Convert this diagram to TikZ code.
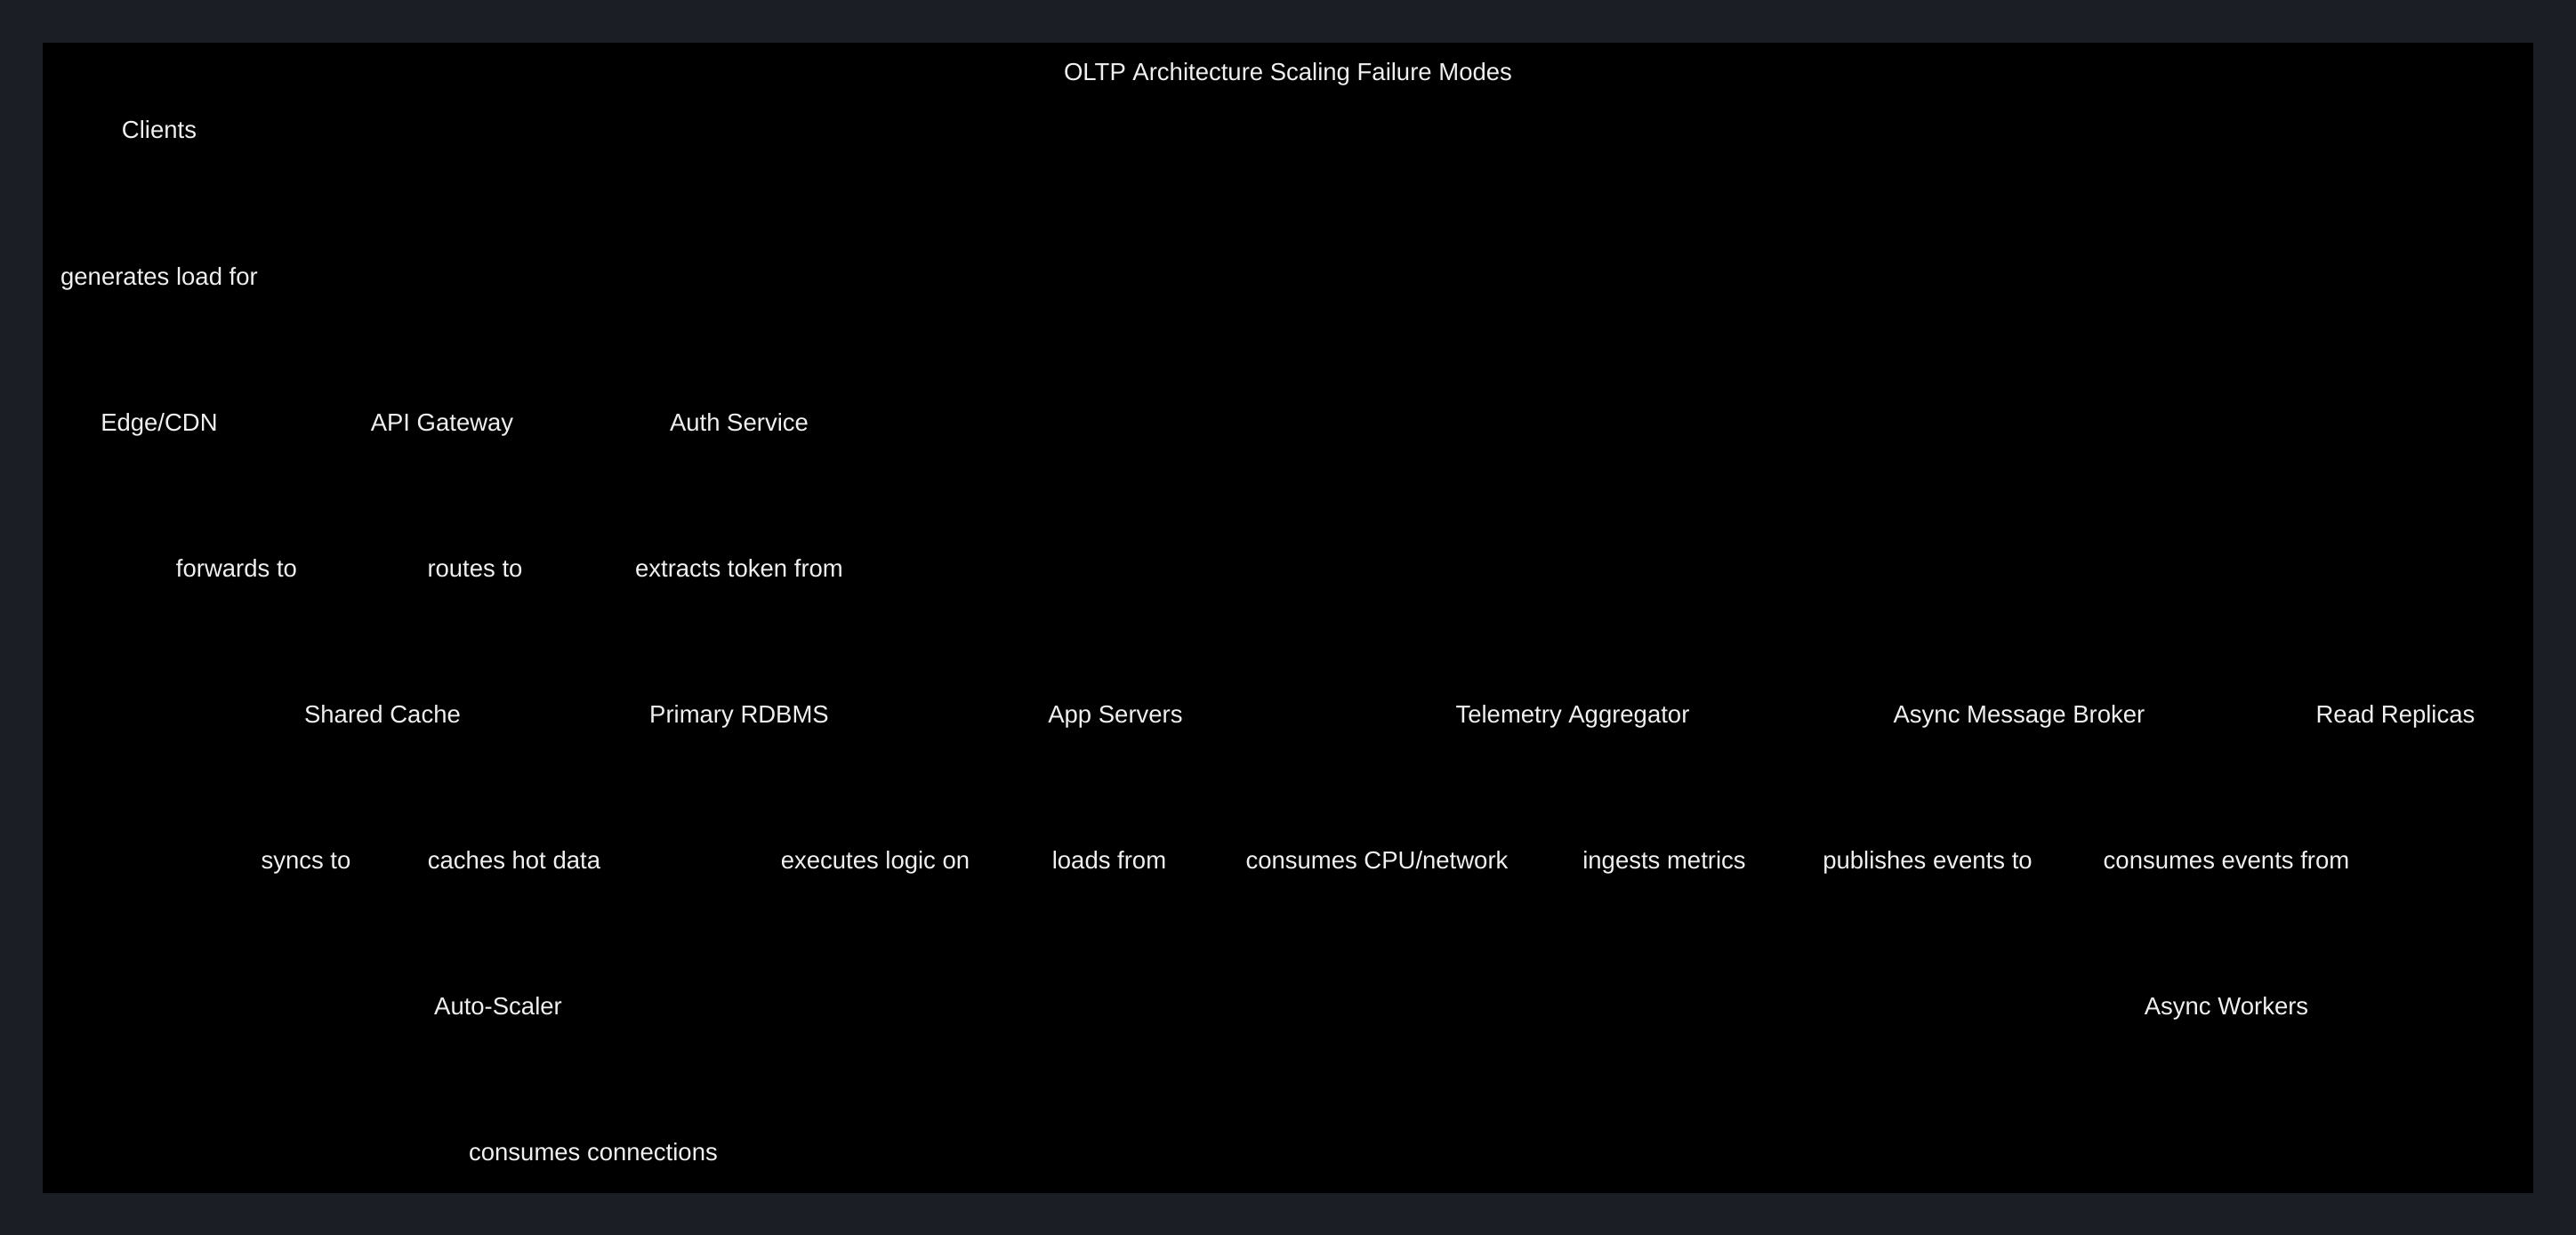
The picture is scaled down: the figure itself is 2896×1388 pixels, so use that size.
\documentclass[tikz,border=0pt]{standalone}
\usepackage{fontspec}
\setmainfont{Liberation Sans}
\definecolor{outerbg}{RGB}{27,30,37}
\definecolor{innerbg}{RGB}{0,0,0}
\definecolor{txt}{RGB}{240,240,240}
\begin{document}
\begin{tikzpicture}[x=1pt,y=-1pt,
  lbl/.style={text=txt,inner sep=0pt,anchor=base,font=\fontsize{27.5}{32}\selectfont}]
\fill[outerbg] (0,0) rectangle (2896,1388);
\useasboundingbox (0,0) rectangle (2896,1388);
\fill[innerbg] (48,48) rectangle (2848,1341);
\node[lbl] (title) at (1448,91) {OLTP Architecture Scaling Failure Modes};
\node[lbl] (clients) at (179,156) {Clients};
\node[lbl] (gen) at (179,320) {generates load for};
\node[lbl] (edge) at (179,484) {Edge/CDN};
\node[lbl] (api) at (497,484) {API Gateway};
\node[lbl] (auth) at (831,484) {Auth Service};
\node[lbl] (fwd) at (266,648) {forwards to};
\node[lbl] (routes) at (534,648) {routes to};
\node[lbl] (extr) at (831,648) {extracts token from};
\node[lbl] (cache) at (430,812) {Shared Cache};
\node[lbl] (rdbms) at (831,812) {Primary RDBMS};
\node[lbl] (app) at (1254,812) {App Servers};
\node[lbl] (tele) at (1768,812) {Telemetry Aggregator};
\node[lbl] (broker) at (2270,812) {Async Message Broker};
\node[lbl] (replicas) at (2693,812) {Read Replicas};
\node[lbl] (syncs) at (344,976) {syncs to};
\node[lbl] (caches) at (578,976) {caches hot data};
\node[lbl] (exec) at (984,976) {executes logic on};
\node[lbl] (loads) at (1247,976) {loads from};
\node[lbl] (cpu) at (1548,976) {consumes CPU/network};
\node[lbl] (ingest) at (1871,976) {ingests metrics};
\node[lbl] (pub) at (2167,976) {publishes events to};
\node[lbl] (consev) at (2503,976) {consumes events from};
\node[lbl] (scaler) at (560,1140) {Auto-Scaler};
\node[lbl] (workers) at (2503,1140) {Async Workers};
\node[lbl] (conns) at (667,1304) {consumes connections};
\end{tikzpicture}
\end{document}
